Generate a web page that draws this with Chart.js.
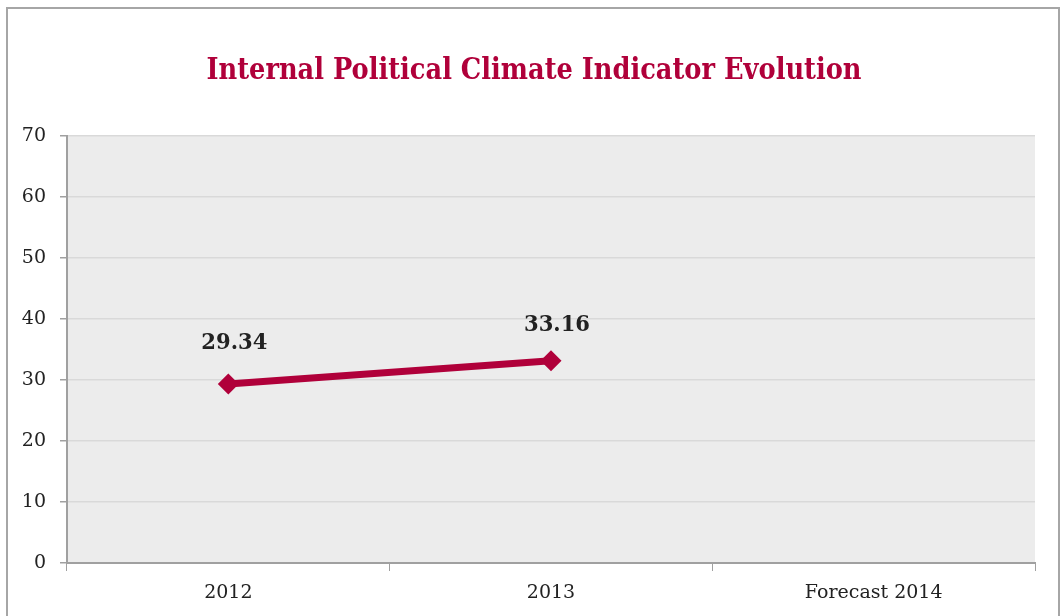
<!DOCTYPE html>
<html><head><meta charset="utf-8">
<script src="https://cdn.jsdelivr.net/npm/chart.js@4"></script>
<style>html,body{margin:0;padding:0;background:#fff}#wrap{width:1064px;height:616px;position:relative}</style>
</head><body><div id="wrap"><canvas id="c" width="1064" height="616"></canvas></div>
<script>
const categories = ["2012", "2013", "Forecast 2014"];
const indicatorValues = [29.34, 33.16, null];
const valueLabels = ["29.34", "33.16", ""];
const yTicks = [0, 10, 20, 30, 40, 50, 60, 70];
const chartTitle = "Internal Political Climate Indicator Evolution";

const SERIF = '"DejaVu Serif", "Liberation Serif", serif';
const crimson = '#b0003a';
const labelLift = [41, 36, 36];

const decor = {
  id: 'decor',
  beforeDraw(chart) {
    const {ctx, chartArea: a} = chart;
    ctx.save();
    ctx.fillStyle = '#fff';
    ctx.fillRect(0, 0, chart.width, chart.height);
    ctx.strokeStyle = '#a6a6a6';
    ctx.lineWidth = 2;
    ctx.strokeRect(7, 8, 1052, 640);
    ctx.fillStyle = '#ececec';
    ctx.fillRect(a.left, a.top, a.right - a.left, a.bottom - a.top);
    ctx.restore();
  },
  afterDraw(chart) {
    const {ctx} = chart;
    ctx.save();
    ctx.fillStyle = crimson;
    ctx.font = 'bold 30px ' + SERIF;
    ctx.textAlign = 'center';
    ctx.textBaseline = 'alphabetic';
    ctx.fillText(chartTitle, 534, 79, 655);
    const meta = chart.getDatasetMeta(0);
    ctx.fillStyle = '#222';
    ctx.font = 'bold 23px ' + SERIF;
    ctx.textBaseline = 'middle';
    meta.data.forEach((pt, i) => {
      if (indicatorValues[i] == null) return;
      ctx.fillText(valueLabels[i], pt.x + 6, pt.y - labelLift[i], 66);
    });
    ctx.restore();
  }
};

new Chart(document.getElementById('c'), {
  type: 'line',
  data: {
    labels: categories,
    datasets: [{
      data: indicatorValues,
      borderColor: crimson,
      backgroundColor: crimson,
      borderWidth: 7,
      pointStyle: 'rectRot',
      pointRadius: 10.5,
      pointHoverRadius: 10.5,
      pointBorderWidth: 0,
      tension: 0
    }]
  },
  options: {
    responsive: false,
    animation: false,
    events: [],
    layout: {padding: {top: 136, right: 29, bottom: 0, left: 0}},
    plugins: {legend: {display: false}, tooltip: {enabled: false}, title: {display: false}},
    scales: {
      x: {
        offset: true,
        grid: {offset: true, drawOnChartArea: false, tickLength: 8, tickColor: '#a0a0a0', color: '#a0a0a0'},
        border: {color: '#a0a0a0', width: 2},
        ticks: {color: '#222', font: {family: SERIF, size: 19}, padding: 11},
        afterFit(s) { s.height = 53; }
      },
      y: {
        min: 0, max: 70,
        afterBuildTicks(s) { s.ticks = yTicks.map(v => ({value: v})); },
        grid: {color: '#d9d9d9', lineWidth: 1.5, tickLength: 7, tickColor: '#a0a0a0'},
        border: {color: '#a0a0a0', width: 2},
        ticks: {color: '#222', font: {family: SERIF, size: 19}, padding: 14},
        afterFit(s) { s.width = 67; }
      }
    }
  },
  plugins: [decor]
});
</script></body></html>
